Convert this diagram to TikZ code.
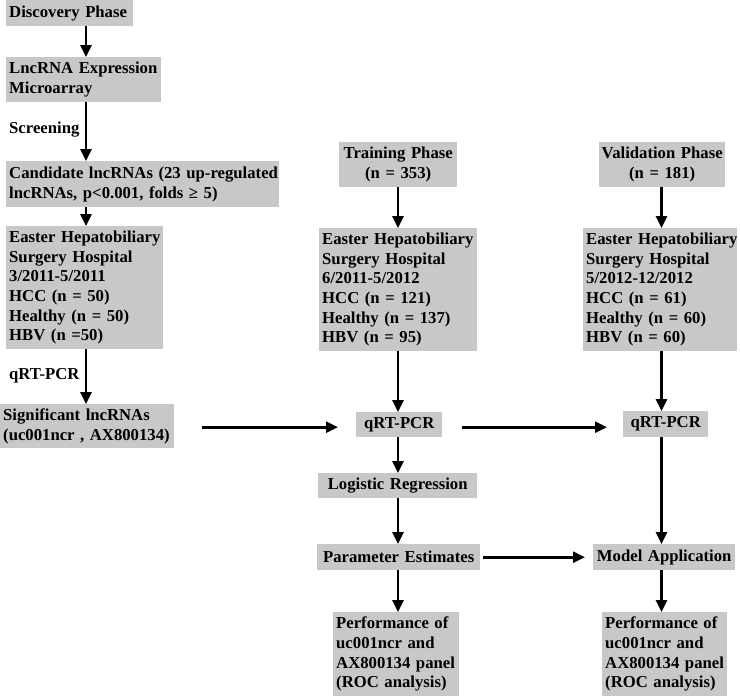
\documentclass[tikz,border=0pt]{standalone}
\usepackage{fontspec}
\setmainfont{Liberation Serif}
\usetikzlibrary{arrows.meta}
\definecolor{boxgray}{RGB}{200,200,200}
\begin{document}
\begin{tikzpicture}[x=1pt,y=-1pt,
  box/.style={fill=boxgray, anchor=north west, inner xsep=3pt, inner ysep=0pt, align=left,
    font=\bfseries\fontsize{16.7}{19.6}\selectfont},
  cbox/.style={box, inner xsep=0pt, align=center},
  lbl/.style={anchor=west, inner sep=0pt, font=\bfseries\fontsize{16.7}{19.6}\selectfont},
  arr/.style={line width=2.6pt, -{Triangle[length=12pt,width=11pt]}}]
\useasboundingbox[fill=white] (0,0) rectangle (740,696);
\coordinate (colA) at (86,0);
\coordinate (colB) at (398,0);
\coordinate (colC) at (661.5,0);
% left column
\node[box, minimum width=127pt, minimum height=26pt, text width=121pt] (disc) at (6,0) {\mbox{Discovery Phase}};
\node[box, minimum width=155pt, minimum height=45pt, text width=149pt] (lnc) at (6,57) {\mbox{LncRNA Expression}\\Microarray};
\node[box, minimum width=273pt, minimum height=46pt, text width=267pt] (cand) at (6,161) {\mbox{Candidate lncRNAs (23 up-regulated}\\\mbox{lncRNAs, p<0.001, folds ≥ 5)}};
\node[box, minimum width=157pt, minimum height=123pt, text width=151pt] (eas1) at (6,226) {\mbox{Easter Hepatobiliary}\\Surgery Hospital\\3/2011-5/2011\\HCC (n = 50)\\Healthy (n = 50)\\HBV (n =50)};
\node[box, minimum width=174pt, minimum height=44pt, text width=168pt] (sig) at (0,404) {\mbox{Significant lncRNAs}\\\mbox{(uc001ncr , AX800134)}};
\node[lbl] (scr) at (9,130) {Screening};
\node[lbl] (pcr1) at (9,376) {qRT-PCR};
% middle column
\node[cbox, minimum width=118pt, minimum height=45pt, text width=118pt] (train) at (339,142) {Training Phase\\(n = 353)};
\node[box, minimum width=158pt, minimum height=123pt, text width=152pt] (eas2) at (319,228) {\mbox{Easter Hepatobiliary}\\Surgery Hospital\\6/2011-5/2012\\HCC (n = 121)\\Healthy (n = 137)\\HBV (n = 95)};
\node[cbox, minimum width=86pt, minimum height=25pt, text width=86pt] (qrt2) at (356,412) {qRT-PCR};
\node[cbox, minimum width=159pt, minimum height=25pt, text width=159pt] (logit) at (318,473) {Logistic Regression};
\node[cbox, minimum width=163pt, minimum height=26pt, text width=163pt] (param) at (317,544) {Parameter Estimates};
\node[box, minimum width=126pt, minimum height=84pt, text width=120pt] (perf2) at (333,612) {\mbox{Performance of}\\uc001ncr and\\\mbox{AX800134 panel}\\\mbox{(ROC analysis)}};
% right column
\node[cbox, minimum width=126pt, minimum height=45pt, text width=126pt] (val) at (599,142) {\mbox{Validation Phase}\\(n = 181)};
\node[box, minimum width=154pt, minimum height=123pt, text width=148pt] (eas3) at (583,228) {\mbox{Easter Hepatobiliary}\\Surgery Hospital\\5/2012-12/2012\\HCC (n = 61)\\Healthy (n = 60)\\HBV (n = 60)};
\node[cbox, minimum width=85pt, minimum height=26pt, text width=85pt] (qrt3) at (623,411) {qRT-PCR};
\node[cbox, minimum width=142pt, minimum height=26pt, text width=142pt] (model) at (593,544) {Model Application};
\node[box, minimum width=125pt, minimum height=84pt, text width=119pt] (perf3) at (602,612) {\mbox{Performance of}\\uc001ncr and\\\mbox{AX800134 panel}\\\mbox{(ROC analysis)}};
% arrows left
\draw[arr] (disc.south -| colA) -- (lnc.north -| colA);
\draw[arr] (lnc.south -| colA) -- (cand.north -| colA);
\draw[arr] (cand.south -| colA) -- (eas1.north -| colA);
\draw[arr] (eas1.south -| colA) -- (sig.north -| colA);
% horizontal
\draw[arr] ([xshift=28pt,yshift=-1pt]sig.east) -- ([xshift=-18pt,yshift=-1pt]sig.east -| qrt2.west);
\draw[arr] ([xshift=20pt,yshift=-1pt]sig.east -| qrt2.east) -- ([xshift=-16pt,yshift=-1pt]sig.east -| qrt3.west);
\draw[arr] ([xshift=3pt]param.east) -- ([xshift=-8pt]param.east -| model.west);
% middle
\draw[arr] (train.south -| colB) -- (eas2.north -| colB);
\draw[arr] (eas2.south -| colB) -- (qrt2.north -| colB);
\draw[arr] (qrt2.south -| colB) -- (logit.north -| colB);
\draw[arr] (logit.south -| colB) -- (param.north -| colB);
\draw[arr] (param.south -| colB) -- (perf2.north -| colB);
% right
\draw[arr] (val.south -| colC) -- (eas3.north -| colC);
\draw[arr] (eas3.south -| colC) -- (qrt3.north -| colC);
\draw[arr] (qrt3.south -| colC) -- (model.north -| colC);
\draw[arr] (model.south -| colC) -- (perf3.north -| colC);
\end{tikzpicture}
\end{document}
